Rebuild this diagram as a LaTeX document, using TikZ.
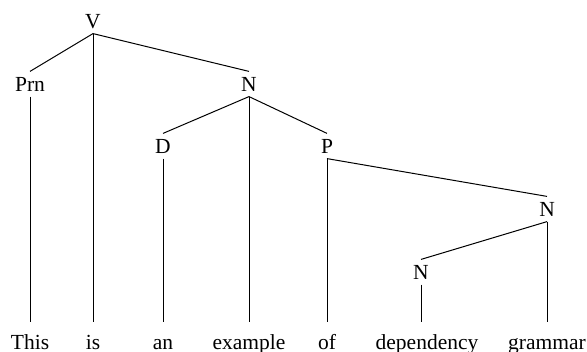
\documentclass[tikz,border=0pt]{standalone}
\usepackage{fontspec}
\setmainfont{Liberation Serif}
\tikzset{every picture/.style = {x=0.5pt, y=-0.5pt, line width=0.5pt,
  font=\fontsize{10.75}{13}\selectfont}}
\tikzset{cat/.style = {inner sep=2.5pt, text height=7.1pt, text depth=0pt}}
\tikzset{word/.style = {anchor=base, inner xsep=0pt, inner ysep=6pt, text height=7.5pt}}

\begin{document}
\begin{tikzpicture}
  \useasboundingbox (0, 0) rectangle (587, 352);
  \node[cat] (v) at (93, 21) {V};
  \node[cat] (prn) at (30, 84) {Prn};
  \node[cat] (n1) at (249, 84) {N};
  \node[cat] (d) at (163, 146) {D};
  \node[cat] (p) at (327, 146) {P};
  \node[cat] (n2) at (547, 209) {N};
  \node[cat] (n3) at (421, 272) {N};
  \node[word] (w1) at (30, 349) {This};
  \node[word] (w2) at (93, 349) {is};
  \node[word] (w3) at (163, 349) {an};
  \node[word] (w4) at (249, 349) {example};
  \node[word] (w5) at (327, 349) {of};
  \node[word] (w6) at (427, 349) {dependency};
  \node[word] (w7) at (547, 349) {grammar};
  \draw (v.south) -- (prn.north);
  \draw (v.south) -- (n1.north);
  \draw (n1.south) -- (d.north);
  \draw (n1.south) -- (p.north);
  \draw (p.south) -- (n2.north);
  \draw (n2.south) -- (n3.north);
  \draw (prn.south) -- (w1.north);
  \draw (v.south) -- (w2.north);
  \draw (d.south) -- (w3.north);
  \draw (n1.south) -- (w4.north);
  \draw (p.south) -- (w5.north);
  \draw (n3.south) -- (n3.south |- w6.north);
  \draw (n2.south) -- (w7.north);
\end{tikzpicture}
\end{document}
